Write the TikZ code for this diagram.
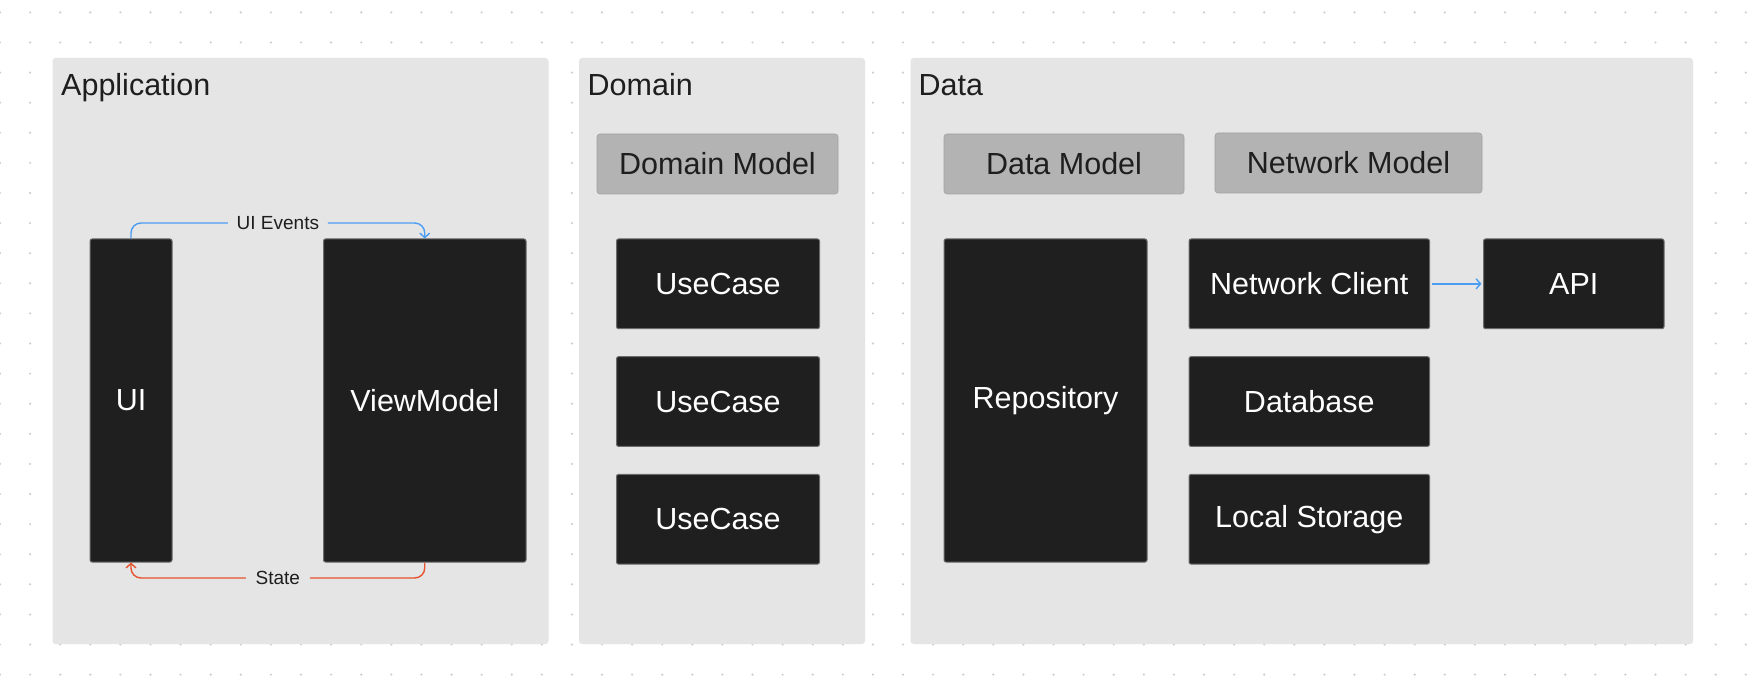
\documentclass[tikz,border=0pt]{standalone}
\usepackage{fontspec}
\setmainfont{Liberation Sans}
\usetikzlibrary{positioning,arrows.meta}

\definecolor{paper}{HTML}{FFFFFF}
\definecolor{griddot}{HTML}{CDCDCD}
\definecolor{panelgray}{HTML}{E5E5E5}
\definecolor{modelgray}{HTML}{B3B3B3}
\definecolor{boxblack}{HTML}{1F1F1F}
\definecolor{boxedge}{HTML}{6A6A6A}
\definecolor{inkdark}{HTML}{1E1E1E}
\definecolor{evtblue}{HTML}{4A9EF2}
\definecolor{statered}{HTML}{E5532F}

\newcommand{\bigtext}{\fontsize{30.5}{36}\selectfont}
\newcommand{\smalltext}{\fontsize{19}{23}\selectfont}

\tikzset{
  layer/.style={fill=panelgray, rounded corners=3pt, inner sep=0pt},
  layertitle/.style={anchor=base west, inner sep=0pt, text=inkdark, font=\bigtext},
  model/.style={fill=modelgray, draw=modelgray!90!black, line width=0.6pt, rounded corners=3pt,
    inner sep=0pt, minimum height=60pt, text=inkdark, font=\bigtext},
  comp/.style={fill=boxblack, draw=boxedge, line width=1pt, rounded corners=2pt,
    inner sep=0pt, text=white, font=\bigtext},
  flowlabel/.style={fill=panelgray, inner sep=0pt, minimum width=100pt, minimum height=20pt,
    text=inkdark, font=\smalltext},
  >={Straight Barb[length=4.5pt,width=10pt]}
}

\begin{document}
\begin{tikzpicture}[x=1pt, y=-1pt]
  \useasboundingbox (0,0) rectangle (1764,692);
  \fill[paper] (0,0) rectangle (1764,692);
  % dotted canvas
  \foreach \i in {0,...,58}
    \foreach \j in {0,...,22}
      \fill[griddot] (30.1*\i, 12.4+30.1*\j) circle (1.2pt);

  % layers
  \node[layer, minimum width=496pt, minimum height=586pt] (app) at (300.5,351) {};
  \node[layer, minimum width=286pt, minimum height=586pt] (dom) at (722,351) {};
  \node[layer, minimum width=782.5pt, minimum height=586pt] (dat) at (1301.75,351) {};
  \node[layertitle] (apptitle) at (61,96) {Application};
  \node[layertitle] (domtitle) at (587.5,96) {Domain};
  \node[layertitle] (dattitle) at (918.5,96) {Data};

  % application
  \node[comp, minimum width=82pt, minimum height=323pt] (ui) at (131,400.5) {UI};
  \node[comp, minimum width=202.5pt, minimum height=323pt] (vm) at (424.75,400.5) {ViewModel};
  \draw[evtblue, line width=1.4pt, rounded corners=10pt, ->] (ui.north) -- ++(0,-15.5)
    -| node[flowlabel, pos=0.25] (evtlabel) {UI Events} (vm.north);
  \draw[statered, line width=1.4pt, rounded corners=10pt, ->] (vm.south) -- ++(0,15.5)
    -| node[flowlabel, pos=0.25, minimum width=64pt] (statelabel) {State} (ui.south);

  % domain
  \node[model, minimum width=241pt] (dommodel) at (717.5,164) {Domain Model};
  \node[comp, minimum width=203pt, minimum height=89.7pt] (uc1) at (718,283.85) {UseCase};
  \node[comp, minimum width=203pt, minimum height=89.7pt, below=27pt of uc1] (uc2) {UseCase};
  \node[comp, minimum width=203pt, minimum height=89.7pt, below=27pt of uc2] (uc3) {UseCase};

  % data
  \node[model, minimum width=240pt] (datmodel) at (1064,164) {Data Model};
  \node[model, minimum width=267pt] (netmodel) at (1348.5,163) {Network Model};
  \node[comp, minimum width=203pt, minimum height=323pt] (repo) at (1045.5,400.5) {Repository};
  \node[comp, minimum width=240.5pt, minimum height=89.7pt] (netclient) at (1309.25,283.85) {Network Client};
  \node[comp, minimum width=240.5pt, minimum height=89.7pt, below=27pt of netclient] (database) {Database};
  \node[comp, minimum width=240.5pt, minimum height=89.7pt, below=27pt of database] (storage) {Local Storage};
  \node[comp, minimum width=180.5pt, minimum height=89.7pt, right=53pt of netclient] (api) {API};
  \draw[evtblue, line width=1.4pt, ->, shorten <=1.5pt, shorten >=1.5pt] (netclient) -- (api);
\end{tikzpicture}
\end{document}
